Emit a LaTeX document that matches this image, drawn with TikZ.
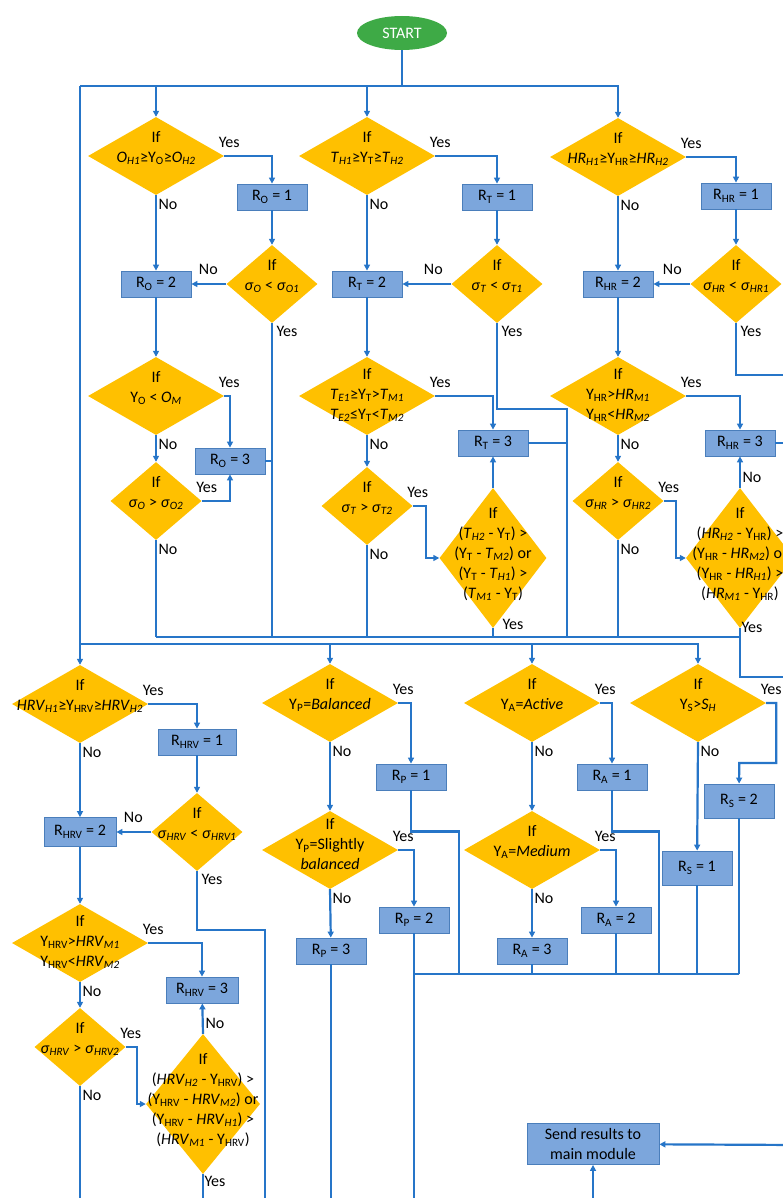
\documentclass[tikz,border=0pt]{standalone}
\usepackage{fontspec}
\setmainfont{Carlito}
\usetikzlibrary{arrows.meta,shapes.geometric}

\definecolor{ifgold}{RGB}{255,192,0}
\definecolor{boxblue}{RGB}{124,166,220}
\definecolor{boxedge}{RGB}{74,126,187}
\definecolor{flowblue}{RGB}{38,117,200}
\definecolor{startgreen}{RGB}{62,170,70}

\newcommand{\subu}[1]{\textsubscript{#1}}
\newcommand{\subi}[1]{\textsubscript{\textit{#1}}}
\newcommand{\ivar}[2]{\textit{#1}\subi{#2}}
\newcommand{\yval}[1]{Y\subu{#1}}
\newcommand{\sig}[1]{\textit{σ}\subi{#1}}

\begin{document}
\begin{tikzpicture}[
    x=1pt, y=-1pt,
    font=\fontsize{16}{20}\selectfont,
    >={Triangle[length=6pt, width=6pt]},
    flow/.style={draw=flowblue, line width=2.2pt},
    startnode/.style={ellipse, fill=startgreen, text=white, minimum width=90pt, minimum height=34pt, inner sep=0pt},
    ifnode/.style={diamond, fill=ifgold, inner sep=0pt, minimum width=136pt, minimum height=78pt},
    ifsmall/.style={ifnode, minimum width=91pt},
    iftall/.style={ifnode, minimum width=#1, minimum height=140pt},
    iftext/.style={align=center, inner sep=0pt, yshift=#1},
    iftext/.default=8pt,
    rbox/.style={rectangle, fill=boxblue, draw=boxedge, line width=0.8pt, minimum width=70pt, minimum height=26pt, inner sep=0pt},
    lab/.style={inner sep=0pt},
    ylab/.style={lab, xshift=5pt, yshift=14pt},
    nlab/.style={lab, xshift=12pt, yshift=-9pt},
    nlabl/.style={lab, xshift=-18pt, yshift=15pt},
    ylabd/.style={lab, xshift=15pt, yshift=-8pt}
]
    \useasboundingbox (0,0) rectangle (783,1198);
    \clip (0,0) rectangle (783,1198);

    % 开始节点和总线坐标
    \node[startnode] (start) at (402,33) {START};
    \coordinate (busL) at (80,86);
    \coordinate (busR) at (618,86);
    \coordinate (lowL) at (80,644);
    \coordinate (joinL) at (156,637);
    \coordinate (joinR) at (740,637);
    \coordinate (outA) at (800,677);
    \coordinate (outB) at (800,375);
    \coordinate (tcol) at (567,409);
    \coordinate (endL) at (414,974);
    \coordinate (endR) at (739,974);
    \coordinate (kp) at (459,974);
    \coordinate (ka) at (659,974);
    \coordinate (vout) at (265,1210);
    \coordinate (sendR) at (800,1145);
    \coordinate (sendB) at (593,1210);

    % O 列节点
    \node[ifnode] (o1) at (156,156) {};
    \node[iftext] (o1t) at (o1) {If\\\ivar{O}{H1}≥\yval{O}≥\ivar{O}{H2}};
    \node[rbox] (ro1) at (272,197) {R\subu{O} = 1};
    \node[ifsmall] (o2) at (272,284) {};
    \node[iftext] (o2t) at (o2) {If\\\sig{O} < \sig{O1}};
    \node[rbox] (ro2) at (156,284) {R\subu{O} = 2};
    \node[ifnode] (o3) at (156,396) {};
    \node[iftext] (o3t) at (o3) {If\\\yval{O} < \ivar{O}{M}};
    \node[ifsmall] (o4) at (156,501) {};
    \node[iftext] (o4t) at (o4) {If\\\sig{O} > \sig{O2}};
    \node[rbox] (ro3) at (230,461) {R\subu{O} = 3};

    % T 列节点
    \node[ifnode] (t1) at (367,156) {};
    \node[iftext] (t1t) at (t1) {If\\\ivar{T}{H1}≥\yval{T}≥\ivar{T}{H2}};
    \node[rbox] (rt1) at (497,197) {R\subu{T} = 1};
    \node[ifsmall] (t2) at (497,284) {};
    \node[iftext] (t2t) at (t2) {If\\\sig{T} < \sig{T1}};
    \node[rbox] (rt2) at (367,284) {R\subu{T} = 2};
    \node[ifnode] (t3) at (367,396) {};
    \node[iftext=1pt] (t3t) at (t3) {If\\\ivar{T}{E1}≥\yval{T}>\ivar{T}{M1}\\\ivar{T}{E2}≤\yval{T}<\ivar{T}{M2}};
    \node[ifsmall] (t4) at (367,506) {};
    \node[iftext] (t4t) at (t4) {If\\\sig{T} > \sig{T2}};
    \node[rbox] (rt3) at (493,443) {R\subu{T} = 3};
    \node[iftall=107pt] (t5) at (493,558) {};
    \node[iftext=4pt] (t5t) at (t5) {If\\(\ivar{T}{H2} - \yval{T}) >\\(\yval{T} - \ivar{T}{M2}) or\\(\yval{T} - \ivar{T}{H1}) >\\(\ivar{T}{M1} - \yval{T})};

    % HR 列节点
    \node[ifnode] (h1) at (618,157) {};
    \node[iftext] (h1t) at (h1) {If\\\ivar{HR}{H1}≥\yval{HR}≥\ivar{HR}{H2}};
    \node[rbox] (rh1) at (736,196) {R\subu{HR} = 1};
    \node[ifsmall] (h2) at (736,284) {};
    \node[iftext] (h2t) at (h2) {If\\\sig{HR} < \sig{HR1}};
    \node[rbox] (rh2) at (618,284) {R\subu{HR} = 2};
    \node[ifnode] (h3) at (618,396) {};
    \node[iftext=1pt] (h3t) at (h3) {If\\\yval{HR}>\ivar{HR}{M1}\\\yval{HR}<\ivar{HR}{M2}};
    \node[ifsmall] (h4) at (618,501) {};
    \node[iftext] (h4t) at (h4) {If\\\sig{HR} > \sig{HR2}};
    \node[rbox] (rh3) at (740,443) {R\subu{HR} = 3};
    \node[iftall=108pt] (h5) at (740,558) {};
    \node[iftext=4pt] (h5t) at (h5) {If\\(\ivar{HR}{H2} - \yval{HR}) >\\(\yval{HR} - \ivar{HR}{M2}) or\\(\yval{HR} - \ivar{HR}{H1}) >\\(\ivar{HR}{M1} - \yval{HR})};

    % HRV 列节点
    \node[ifnode] (v1) at (80,704) {};
    \node[iftext] (v1t) at (v1) {If\\\ivar{HRV}{H1}≥\yval{HRV}≥\ivar{HRV}{H2}};
    \node[rbox, minimum width=78pt] (rv1) at (197,742) {R\subu{HRV} = 1};
    \node[ifsmall] (v2) at (197,832) {};
    \node[iftext] (v2t) at (v2) {If\\\sig{HRV} < \sig{HRV1}};
    \node[rbox, minimum width=72pt, minimum height=29pt] (rv2) at (80,832) {R\subu{HRV} = 2};
    \node[ifnode] (v3) at (80,943) {};
    \node[iftext=1pt] (v3t) at (v3) {If\\\yval{HRV}>\ivar{HRV}{M1}\\\yval{HRV}<\ivar{HRV}{M2}};
    \node[ifsmall] (v4) at (80,1047) {};
    \node[iftext] (v4t) at (v4) {If\\\sig{HRV} > \sig{HRV2}};
    \node[rbox, minimum width=72pt] (rv3) at (202,990) {R\subu{HRV} = 3};
    \node[iftall=114pt] (v5) at (203,1104) {};
    \node[iftext=4pt] (v5t) at (v5) {If\\(\ivar{HRV}{H2} - \yval{HRV}) >\\(\yval{HRV} - \ivar{HRV}{M2}) or\\(\yval{HRV} - \ivar{HRV}{H1}) >\\(\ivar{HRV}{M1} - \yval{HRV})};

    % P, A, S 列节点
    \node[ifnode] (p1) at (330,703) {};
    \node[iftext] (p1t) at (p1) {If\\\yval{P}=\textit{Balanced}};
    \node[rbox] (rp1) at (411,777) {R\subu{P} = 1};
    \node[ifnode] (p2) at (330,850) {};
    \node[iftext=6pt] (p2t) at (p2) {If\\\yval{P}=Slightly\\\textit{balanced}};
    \node[rbox] (rp2) at (414,920) {R\subu{P} = 2};
    \node[rbox] (rp3) at (331,951) {R\subu{P} = 3};
    \node[ifnode] (a1) at (532,703) {};
    \node[iftext] (a1t) at (a1) {If\\\yval{A}=\textit{Active}};
    \node[rbox] (ra1) at (612,777) {R\subu{A} = 1};
    \node[ifnode] (a2) at (532,850) {};
    \node[iftext] (a2t) at (a2) {If\\\yval{A}=\textit{Medium}};
    \node[rbox] (ra2) at (616,920) {R\subu{A} = 2};
    \node[rbox] (ra3) at (532,951) {R\subu{A} = 3};
    \node[ifnode] (s1) at (698,703) {};
    \node[iftext] (s1t) at (s1) {If\\\yval{S}>\ivar{S}{H}};
    \node[rbox, minimum height=34pt] (rs1) at (697,868) {R\subu{S} = 1};
    \node[rbox, minimum height=34pt] (rs2) at (739,801) {R\subu{S} = 2};
    \node[rbox, align=center, minimum width=132pt, minimum height=41pt] (send) at (593,1144) {Send results to\\main module};

    % 1. 开始和总线
    \draw[flow] (start) -- (start |- busL);
    \draw[flow,->] (busL) -- (busR) -- (h1);
    \draw[flow,->] (o1 |- busL) -- (o1);
    \draw[flow,->] (t1 |- busL) -- (t1);
    \draw[flow,->] (busL) -- (lowL) -- (v1);

    % 2. O 列
    \draw[flow,->] (o1.east) node[ylab] {Yes} -| (ro1);
    \draw[flow,->] (o1.south) node[nlab] {No} -- (ro2);
    \draw[flow,->] (ro1) -- (o2);
    \draw[flow,->] (o2.west) node[nlabl] {No} -- (ro2);
    \draw[flow] (o2.south) node[ylabd] {Yes} -- (o2 |- joinL);
    \draw[flow,->] (ro2) -- (o3);
    \draw[flow,->] (o3.east) node[ylab] {Yes} -| (ro3);
    \draw[flow,->] (o3.south) node[nlab] {No} -- (o4);
    \draw[flow,->] (o4.east) node[ylab] {Yes} -| (ro3);
    \draw[flow] (ro3.east) -- (ro3.east -| o2);
    \draw[flow] (o4.south) node[nlab] {No} -- (joinL);

    % 3. T 列
    \draw[flow,->] (t1.east) node[ylab] {Yes} -| (rt1);
    \draw[flow,->] (t1.south) node[nlab] {No} -- (rt2);
    \draw[flow,->] (rt1) -- (t2);
    \draw[flow,->] (t2.west) node[nlabl] {No} -- (rt2);
    \draw[flow] (t2.south) node[ylabd] {Yes} |- (tcol) -- (tcol |- joinL);
    \draw[flow] (rt3.east) -- (rt3.east -| tcol);
    \draw[flow,->] (rt2) -- (t3);
    \draw[flow,->] (t3.east) node[ylab] {Yes} -| (rt3);
    \draw[flow,->] (t3.south) node[nlab] {No} -- (t4);
    \draw[flow,->] (t4.east) node[ylab] {Yes} -- ++(13,0) |- (t5.west);
    \draw[flow,->] (t5.north) -- (rt3);
    \draw[flow] (t5.south) node[lab, xshift=20pt, yshift=4pt] {Yes} -- (t5 |- joinL);
    \draw[flow] (t4.south) node[nlab] {No} -- (t4 |- joinL);

    % 4. HR 列
    \draw[flow,->] (h1.east) node[ylab] {Yes} -| (rh1);
    \draw[flow,->] (h1.south) node[nlab] {No} -- (rh2);
    \draw[flow,->] (rh1) -- (h2);
    \draw[flow,->] (h2.west) node[nlabl] {No} -- (rh2);
    \draw[flow] (h2.south) node[ylabd] {Yes} |- (outB);
    \draw[flow,->] (rh2) -- (h3);
    \draw[flow,->] (h3.east) node[ylab] {Yes} -| (rh3);
    \draw[flow] (rh3.east) -- (rh3.east -| outB);
    \draw[flow,->] (h3.south) node[nlab] {No} -- (h4);
    \draw[flow,->] (h4.east) node[ylab] {Yes} -- ++(12,0) |- (h5.west);
    \draw[flow,->] (h5.north) node[lab, xshift=12pt, yshift=10pt] {No} -- (rh3);
    \draw[flow] (h5.south) node[lab, xshift=12pt, yshift=1pt] {Yes} |- (outA);
    \draw[flow] (h4.south) node[nlab] {No} -- (h4 |- joinL);
    \draw[flow] (joinL) -- (joinR);

    % 5. 第二行总线
    \draw[flow,->] (lowL) -| (s1);
    \draw[flow,->] (p1 |- lowL) -- (p1);
    \draw[flow,->] (a1 |- lowL) -- (a1);

    % 6. HRV 列
    \draw[flow,->] (v1.east) node[ylab] {Yes} -| (rv1);
    \draw[flow,->] (v1.south) node[nlab] {No} -- (rv2);
    \draw[flow,->] (rv1) -- (v2);
    \draw[flow,->] (v2.west) node[nlabl] {No} -- (rv2);
    \draw[flow] (v2.south) node[ylabd] {Yes} -- ++(0,59) -| (vout);
    \draw[flow,->] (rv2) -- (v3);
    \draw[flow,->] (v3.east) node[ylab] {Yes} -| (rv3);
    \draw[flow,->] (v3.south) node[nlab] {No} -- (v4);
    \draw[flow,->] (v4.east) node[ylab] {Yes} -- ++(11,0) |- (v5.west);
    \draw[flow,->] (v5.north) node[lab, xshift=12pt, yshift=10pt] {No} -- (rv3);
    \draw[flow] (v5.south) node[lab, xshift=12pt, yshift=-7pt] {Yes} -- (v5 |- vout);
    \draw[flow] (v4.south) node[nlab] {No} -- (v4 |- vout);

    % 7. P 列
    \draw[flow,->] (p1.east) node[ylab] {Yes} -| (rp1);
    \draw[flow] (rp1.south) -- ++(0,41) -| (kp);
    \draw[flow,->] (p1.south) node[nlab] {No} -- (p2);
    \draw[flow,->] (p2.east) node[ylab] {Yes} -| (rp2);
    \draw[flow] (rp2.south) -- (rp2 |- vout);
    \draw[flow,->] (p2.south) node[nlab] {No} -- (rp3);
    \draw[flow] (rp3.south) -- (rp3 |- vout);

    % 8. A 列
    \draw[flow,->] (a1.east) node[ylab] {Yes} -| (ra1);
    \draw[flow] (ra1.south) -- ++(0,41) -| (ka);
    \draw[flow,->] (a1.south) node[nlab] {No} -- (a2);
    \draw[flow,->] (a2.east) node[ylab] {Yes} -| (ra2);
    \draw[flow] (ra2.south) -- (ra2 |- endL);
    \draw[flow,->] (a2.south) node[nlab] {No} -- (ra3);
    \draw[flow] (ra3.south) -- (ra3 |- endL);

    % 9. S 列和结果
    \draw[flow,->] (s1.east) node[ylab] {Yes} -- ++(10,0) |- ++(-37,60) -- (rs2);
    \draw[flow,->] (s1.south) node[nlab] {No} -- (rs1);
    \draw[flow] (rs1.south) -- (rs1 |- endL);
    \draw[flow] (rs2.south) -- (endR);
    \draw[flow] (endL) -- (endR);
    \draw[flow,->] (sendR) -- (send);
    \draw[flow,->] (sendB) -- (send);

\end{tikzpicture}
\end{document}
